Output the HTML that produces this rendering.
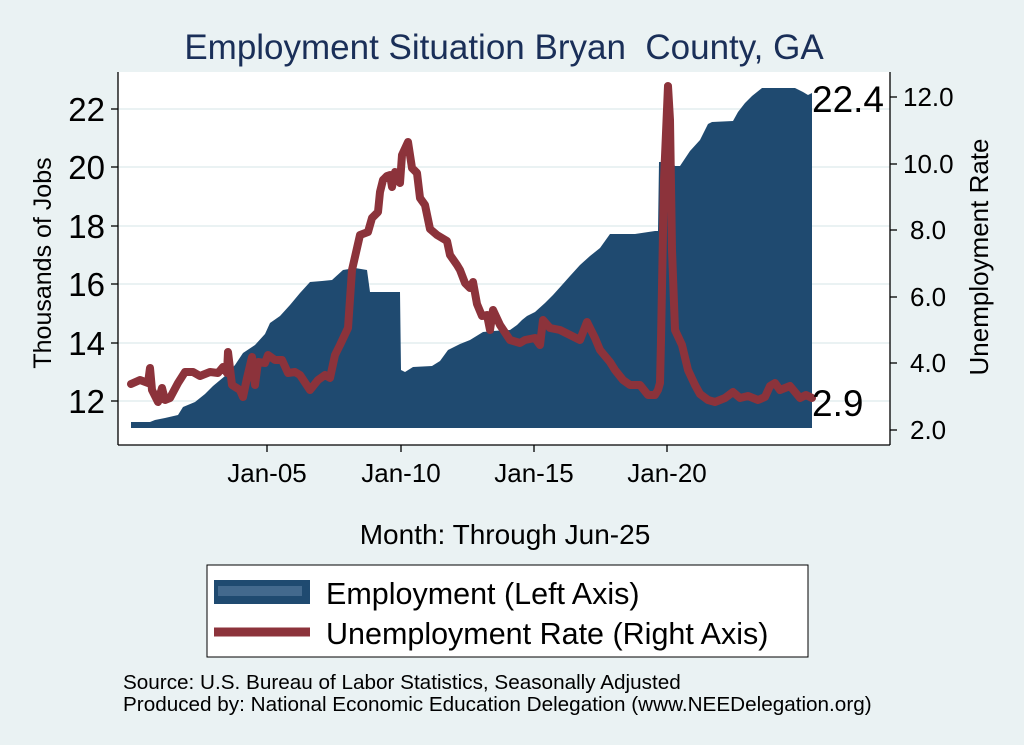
<!DOCTYPE html>
<html><head><meta charset="utf-8"><style>
html,body{margin:0;padding:0;background:#eaf2f3;}
svg{display:block;font-family:"Liberation Sans",sans-serif;}
</style></head><body>
<svg width="1024" height="745" viewBox="0 0 1024 745">
<rect width="1024" height="745" fill="#eaf2f3"/>
<text x="504" y="59" text-anchor="middle" font-size="35" fill="#1a2f58" xml:space="preserve">Employment Situation Bryan  County, GA</text>
<rect x="118" y="72" width="772" height="373" fill="#fff"/>
<g stroke="#eaf2f3" stroke-width="2">
<line x1="118" x2="890" y1="109" y2="109"/><line x1="118" x2="890" y1="167" y2="167"/>
<line x1="118" x2="890" y1="226" y2="226"/><line x1="118" x2="890" y1="284" y2="284"/>
<line x1="118" x2="890" y1="343" y2="343"/><line x1="118" x2="890" y1="401" y2="401"/>
</g>
<polygon fill="#1f4a70" points="131,428 131,422 150,422 155,420 165,418 178,415 183,407 195,402 205,394 213,386 225,376 235,365 243,353 255,345 265,334 270,323 280,316 290,305 300,293 310,282 322,281 332,280 343,270 355,268 367,270 370,292 400,292 401,370 405,372 413,367 432,366 440,361 448,350 460,344 470,340 483,332 493,331 510,330 517,325 522,320 527,316 535,312 545,303 553,295 562,285 570,276 580,265 590,256 600,248 610,234 635,234 655,231 658,231 659,162 672,162 675,166 680,166 690,151 700,140 708,124 712,122 733,121 738,112 745,103 752,96 762,88 795,88 803,92 808,95 812,93 812,428"/>
<polyline fill="none" stroke="#8c333b" stroke-width="8" stroke-linejoin="round" stroke-linecap="round" points="131,384 140,380 148,383 150,368 152,390 158,402 162,388 165,400 170,398 178,383 185,372 193,372 200,376 210,372 218,373 223,367 227,373 228,352 232,385 240,390 243,397 247,378 252,357 255,385 258,362 265,363 268,355 275,360 282,360 288,373 295,372 300,375 310,390 318,380 325,375 330,378 335,355 340,345 348,328 352,270 360,235 368,232 372,218 378,212 380,192 383,180 387,176 390,175 392,187 395,172 400,183 402,155 408,142 412,168 417,173 420,198 425,205 430,229 437,235 442,238 447,241 450,255 457,265 460,270 465,283 470,288 473,282 477,304 482,316 487,315 490,330 493,310 500,325 510,340 520,343 525,340 535,338 540,345 543,320 550,328 560,330 570,335 580,340 587,322 595,338 600,350 610,362 615,370 623,380 630,385 640,385 648,395 655,395 658,390 660,383 661,340 664,180 668,86 670,120 672,250 675,330 682,345 688,370 695,385 700,394 708,400 715,402 725,398 733,392 740,398 748,396 758,400 765,397 770,386 775,383 780,390 790,386 800,398 806,395 812,398"/>
<g stroke="#000" stroke-width="1.3" fill="none">
<line x1="118" y1="72" x2="118" y2="445"/><line x1="890" y1="72" x2="890" y2="445"/>
<line x1="118" y1="445" x2="890" y2="445"/>
<line x1="111" x2="118" y1="109" y2="109"/><line x1="111" x2="118" y1="167" y2="167"/>
<line x1="111" x2="118" y1="226" y2="226"/><line x1="111" x2="118" y1="284" y2="284"/>
<line x1="111" x2="118" y1="343" y2="343"/><line x1="111" x2="118" y1="401" y2="401"/>
<line x1="890" x2="897" y1="97" y2="97"/><line x1="890" x2="897" y1="164" y2="164"/>
<line x1="890" x2="897" y1="230" y2="230"/><line x1="890" x2="897" y1="297" y2="297"/>
<line x1="890" x2="897" y1="363" y2="363"/><line x1="890" x2="897" y1="430" y2="430"/>
<line x1="267" x2="267" y1="445" y2="452"/><line x1="401" x2="401" y1="445" y2="452"/>
<line x1="534" x2="534" y1="445" y2="452"/><line x1="667" x2="667" y1="445" y2="452"/>
</g>
<g font-size="33" text-anchor="end" fill="#000">
<text x="105" y="121">22</text><text x="105" y="179">20</text><text x="105" y="238">18</text>
<text x="105" y="296">16</text><text x="105" y="355">14</text><text x="105" y="413">12</text>
</g>
<g font-size="26" fill="#000">
<text x="903" y="106">12.0</text><text x="903" y="173">10.0</text><text x="910" y="239">8.0</text>
<text x="910" y="306">6.0</text><text x="910" y="372">4.0</text><text x="910" y="439">2.0</text>
</g>
<text x="812" y="112" font-size="37">22.4</text>
<text x="812" y="416" font-size="37">2.9</text>
<g font-size="26" text-anchor="middle">
<text x="267" y="482">Jan-05</text><text x="401" y="482">Jan-10</text>
<text x="534" y="482">Jan-15</text><text x="667" y="482">Jan-20</text>
</g>
<text x="505" y="544" font-size="28" text-anchor="middle">Month: Through Jun-25</text>
<text transform="translate(51,263) rotate(-90)" font-size="25" text-anchor="middle">Thousands of Jobs</text>
<text transform="translate(988,257) rotate(-90)" font-size="26" text-anchor="middle">Unemployment Rate</text>
<rect x="207" y="565" width="601" height="92" fill="#fff" stroke="#000" stroke-width="1"/>
<rect x="214" y="580" width="96" height="24" fill="#1f4a70"/>
<rect x="218" y="586" width="84" height="10" fill="#5b7fa0" opacity="0.6"/>
<line x1="214" x2="310" y1="632" y2="632" stroke="#8c333b" stroke-width="9"/>
<text x="326" y="604" font-size="30.5">Employment (Left Axis)</text>
<text x="326" y="644" font-size="30.5">Unemployment Rate (Right Axis)</text>
<text x="123" y="689" font-size="20.7">Source: U.S. Bureau of Labor Statistics, Seasonally Adjusted</text>
<text x="123" y="711" font-size="20.7">Produced by: National Economic Education Delegation (www.NEEDelegation.org)</text>
</svg>
</body></html>
